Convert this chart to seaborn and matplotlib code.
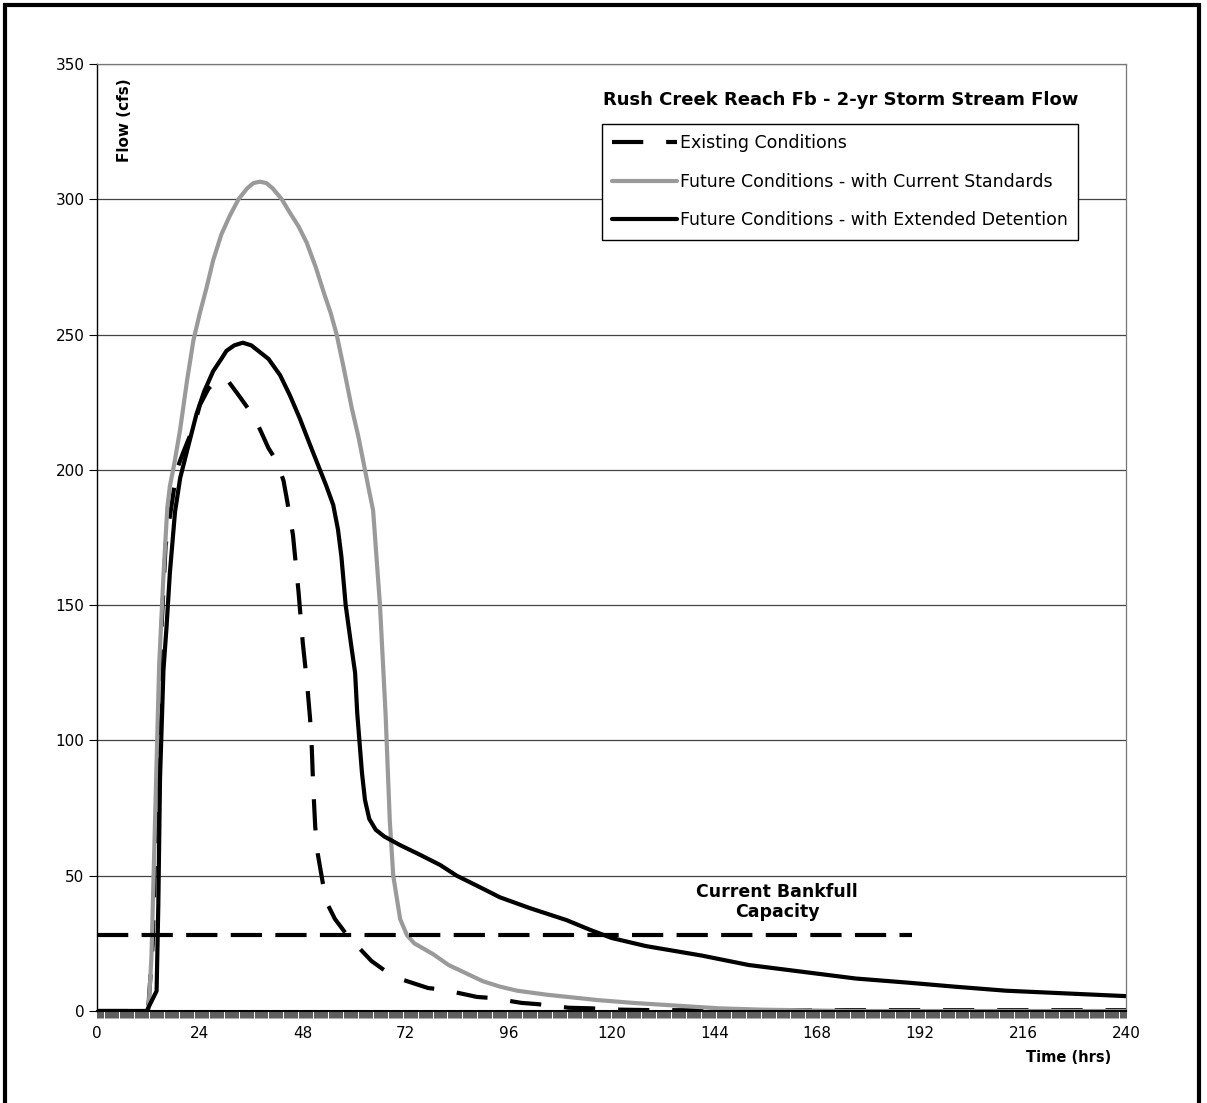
import matplotlib
matplotlib.use("Agg")
import matplotlib.pyplot as plt
import seaborn as sns
from matplotlib.patches import Rectangle
from matplotlib.ticker import MultipleLocator

# Existing conditions hydrograph (hrs, cfs)
existing_t = [0, 11, 12, 13, 14, 15, 16, 17.4, 18.6, 20, 22.8, 24, 26, 28, 30.5, 33.3, 36, 38, 40,
              42, 43.5, 44.3, 45.7, 47, 48, 49, 49.7, 50.1, 50.4, 50.9, 51.5, 52.7, 53.6, 55.5,
              57.4, 59, 60.9, 64, 67.6, 71.4, 77.2, 81, 88.6, 92, 99, 103, 110, 115, 122, 130,
              140, 240]
existing_q = [0, 0, 2, 25, 85, 140, 172, 187, 200, 206, 217, 224, 230, 233.5, 233, 227, 221, 215,
              208, 203, 196, 189, 176, 155, 136, 121, 108, 97, 84, 68, 58, 47, 40, 34,
              30, 26.5, 23.7, 18.5, 14.4, 11.5, 8.5, 7.8, 5.2, 4.8, 3, 2.5, 1.2, 1, 0.5, 0.3,
              0.3, 0.3]

# Future conditions - current standards
current_t = [0, 11.5, 12, 12.7, 13.8, 14.5, 15.5, 16.4, 17, 18, 19.4, 21, 22.5, 24, 25.5, 27.1,
             29, 31, 33, 35, 36.5, 38, 39.5, 41, 43.1, 45, 47, 48.9, 51, 53, 54.5, 55.9, 57.5,
             59.4, 61, 62.5, 63.5, 64.4, 66, 67.3, 68.3, 69.1, 70.7, 72.3, 74,
             78.4, 82, 86, 90, 94, 98, 105, 117, 125, 135, 145, 155, 175, 240]
current_q = [0, 0, 0, 20, 86, 128, 161, 186, 194, 202, 215, 233, 248, 258, 267, 277.5,
             287, 294, 300, 304, 306, 306.5, 306, 304, 300, 295, 290, 284, 275, 265, 258, 250, 238,
             223, 212, 200, 192, 185, 150, 110, 70, 50, 34, 28, 25,
             21, 17, 14, 11, 9, 7.5, 6, 4, 3, 2, 1, 0.5, 0, 0]

# Future conditions - extended detention
extended_t = [0, 11.6, 12.4, 13.9, 14.3, 14.7, 15.5, 16.2, 17, 18.2, 19.4, 21, 23.2, 25, 27.1,
              29, 30.2, 32, 34, 36, 38, 40, 42.7, 45, 47.3, 49.5, 52, 53.5, 55.1, 56.2, 57,
              58, 59.3, 60.2, 60.7, 61.2, 61.8, 62.5, 63.5, 65, 67, 70.7, 75, 80, 83.9, 89, 94,
              101, 109.5, 115, 120, 128, 141, 152, 165, 177, 189, 200, 212, 226, 240]
extended_q = [0, 0, 2.6, 7.4, 39, 86, 126, 141.5, 162, 184.5, 197, 207, 220.6, 229, 236.5,
              241, 244, 246, 247, 246, 243.5, 241, 235, 227.5, 219, 210, 200, 194, 187, 178, 168,
              150, 135, 125, 110, 100, 88, 78, 71, 67, 64.5, 61.3, 58, 54, 50, 46, 42,
              38, 33.6, 30, 27, 24, 20.5, 17, 14.4, 12, 10.5, 9, 7.5, 6.5, 5.5]

bankfull_t = [0, 190]
bankfull_q = [28, 28]

labels = ["Existing Conditions",
          "Future Conditions - with Current Standards",
          "Future Conditions - with Extended Detention"]

sns.set_style("white")
plt.rcParams['font.family'] = ['DejaVu Sans']
plt.rcParams['text.color'] = 'black'
plt.rcParams['xtick.color'] = 'black'
plt.rcParams['ytick.color'] = 'black'

fig = plt.figure(figsize=(12.07, 11.03), dpi=100)
ax = fig.add_axes([97 / 1207, 1 - 1011 / 1103, 1029 / 1207, 947 / 1103])

# Horizontal gridlines
ax.set_axisbelow(True)
ax.yaxis.grid(True, color="#444444", linewidth=0.9)
ax.xaxis.grid(False)

lw = 3.0
sns.lineplot(x=existing_t, y=existing_q, ax=ax, color="black", linewidth=lw,
             sort=False, label=labels[0])
ax.lines[-1].set_dashes([7.5, 5.5])
sns.lineplot(x=current_t, y=current_q, ax=ax, color="#9a9a9a", linewidth=lw,
             sort=False, label=labels[1])
sns.lineplot(x=extended_t, y=extended_q, ax=ax, color="black", linewidth=lw,
             sort=False, label=labels[2])
sns.lineplot(x=bankfull_t, y=bankfull_q, ax=ax, color="black", linewidth=lw,
             sort=False, legend=False)
ax.lines[-1].set_dashes([7.5, 3.2])

ax.text(158.6, 40.3, "Current Bankfull\nCapacity", ha="center", va="center",
        fontsize=12.5, fontweight="bold", linespacing=1.1)

ax.set_xlim(0, 240)
ax.set_ylim(0, 350)
ax.xaxis.set_major_locator(MultipleLocator(24))
ax.xaxis.set_minor_locator(MultipleLocator(0.25))
ax.yaxis.set_major_locator(MultipleLocator(50))

ax.tick_params(axis="y", which="major", direction="out", length=6, width=0.8,
               labelsize=11, pad=3, left=True)
ax.tick_params(axis="x", which="both", direction="out", length=5, width=0.45,
               labelsize=11, pad=6, bottom=True)

for side in ["top", "right"]:
    ax.spines[side].set_color("#777777")
    ax.spines[side].set_linewidth(0.9)
ax.spines["left"].set_color("black")
ax.spines["left"].set_linewidth(1.0)
ax.spines["bottom"].set_color("black")
ax.spines["bottom"].set_linewidth(1.5)

ax.set_xlabel("")
ax.set_ylabel("")
ax.text(0.027, 0.985, "Flow (cfs)", transform=ax.transAxes, rotation=90,
        ha="center", va="top", fontsize=11, fontweight="bold")
ax.text(0.986, -0.0496, "Time (hrs)", transform=ax.transAxes,
        ha="right", va="center", fontsize=10.5, fontweight="bold")

ax.text(0.4918, 0.962, "Rush Creek Reach Fb - 2-yr Storm Stream Flow",
        transform=ax.transAxes, ha="left", va="center", fontsize=13, fontweight="bold")

leg = ax.legend(loc="upper left", bbox_to_anchor=(0.4908, 0.9366), borderaxespad=0,
                fontsize=12.5, handlelength=3.7, handletextpad=0.2, labelspacing=1.18,
                frameon=True, fancybox=False, borderpad=0.6)
leg.get_frame().set_edgecolor("black")
leg.get_frame().set_linewidth(1.0)
leg.get_frame().set_alpha(1)

# Outer chart border
fig.patches.append(Rectangle((5 / 1207, -0.01), 1194 / 1207, 1 - 5 / 1103 + 0.01,
                             transform=fig.transFigure, fill=False,
                             edgecolor="black", linewidth=3))

fig.savefig("out.png", dpi=100)
